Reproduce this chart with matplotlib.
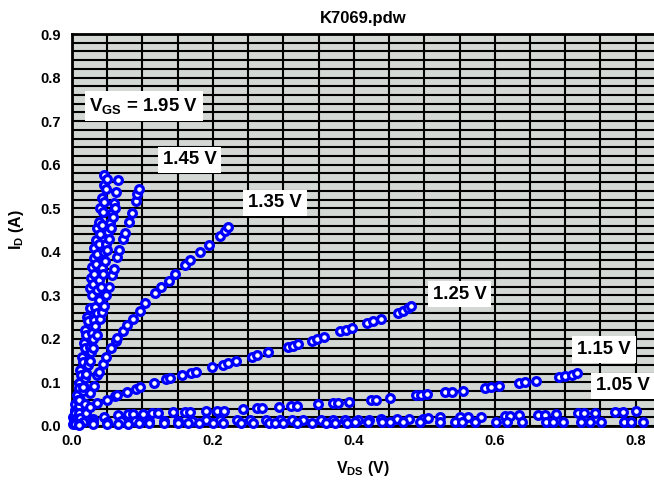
import numpy as np
import matplotlib
matplotlib.use("Agg")
import matplotlib.pyplot as plt

plt.rcParams['font.family'] = ['Liberation Sans', 'DejaVu Sans']
plt.rcParams['font.weight'] = 'bold'
plt.rcParams['mathtext.fontset'] = 'custom'
plt.rcParams['mathtext.rm'] = 'Liberation Sans:bold'
plt.rcParams['mathtext.bf'] = 'Liberation Sans:bold'
plt.rcParams['mathtext.default'] = 'rm'

title = "K7069.pdw"
x_label = r"V$_{DS}$ (V)"
y_label = r"I$_{D}$ (A)"

# Output characteristics, one sweep per gate voltage (V_DS in V, I_D in A)
vds_195 = [0.001, 0.002, 0.004, 0.005, 0.007, 0.0095, 0.012, 0.014, 0.017, 0.019, 0.021,
           0.026, 0.027, 0.029, 0.031, 0.032, 0.034, 0.035, 0.038, 0.040, 0.043, 0.045, 0.046]
id_195 = [0.005, 0.020, 0.037, 0.050, 0.070, 0.098, 0.129, 0.159, 0.190, 0.220, 0.251,
          0.316, 0.339, 0.366, 0.385, 0.408, 0.427, 0.454, 0.469, 0.500, 0.523, 0.553, 0.576]

vds_185 = [0.003, 0.005, 0.008, 0.010, 0.013, 0.015, 0.018, 0.020, 0.023, 0.025, 0.028,
           0.030, 0.032, 0.034, 0.036, 0.038, 0.040, 0.042, 0.044, 0.046, 0.049, 0.050]
id_185 = [0.010, 0.030, 0.060, 0.088, 0.118, 0.148, 0.178, 0.210, 0.240, 0.270, 0.300,
          0.325, 0.350, 0.372, 0.395, 0.418, 0.440, 0.462, 0.492, 0.515, 0.545, 0.568]

vds_165 = [0.004, 0.007, 0.012, 0.017, 0.020, 0.024, 0.026, 0.028, 0.031, 0.033, 0.035,
           0.038, 0.042, 0.044, 0.046, 0.048, 0.051, 0.054, 0.057, 0.059, 0.062, 0.065]
id_165 = [0.015, 0.029, 0.060, 0.090, 0.121, 0.152, 0.182, 0.213, 0.243, 0.274, 0.312,
          0.335, 0.362, 0.381, 0.400, 0.419, 0.446, 0.465, 0.488, 0.511, 0.538, 0.565]

vds_155 = [0.006, 0.010, 0.015, 0.019, 0.023, 0.027, 0.030, 0.033, 0.036, 0.039, 0.041,
           0.044, 0.047, 0.050, 0.052, 0.055, 0.058, 0.061]
id_155 = [0.020, 0.045, 0.080, 0.110, 0.140, 0.170, 0.200, 0.230, 0.260, 0.290, 0.320,
          0.350, 0.378, 0.405, 0.430, 0.455, 0.480, 0.500]

vds_145 = [0.003, 0.005, 0.010, 0.015, 0.020, 0.025, 0.030, 0.035, 0.040, 0.042, 0.045,
           0.049, 0.052, 0.057, 0.059, 0.064, 0.067, 0.072, 0.075, 0.081, 0.085, 0.091,
           0.093, 0.0955]
id_145 = [0.015, 0.030, 0.060, 0.090, 0.120, 0.150, 0.180, 0.210, 0.245, 0.262, 0.275,
          0.301, 0.320, 0.347, 0.360, 0.387, 0.404, 0.429, 0.444, 0.469, 0.490, 0.517,
          0.533, 0.543]

vds_135 = [0.005, 0.010, 0.018, 0.026, 0.031, 0.035, 0.038, 0.044, 0.049, 0.056, 0.062,
           0.064, 0.072, 0.078, 0.086, 0.096, 0.104, 0.118, 0.126, 0.138, 0.146, 0.160,
           0.168, 0.182, 0.195, 0.210, 0.217, 0.222]
id_135 = [0.015, 0.030, 0.050, 0.075, 0.092, 0.117, 0.125, 0.142, 0.159, 0.178, 0.196,
          0.201, 0.219, 0.232, 0.245, 0.265, 0.283, 0.306, 0.318, 0.334, 0.350, 0.370,
          0.381, 0.400, 0.416, 0.436, 0.448, 0.458]

vds_125 = [0.005, 0.012, 0.020, 0.026, 0.036, 0.050, 0.061, 0.064, 0.078, 0.091, 0.096,
           0.117, 0.133, 0.139, 0.156, 0.169, 0.176, 0.199, 0.214, 0.221, 0.233, 0.256,
           0.263, 0.278, 0.306, 0.314, 0.321, 0.341, 0.348, 0.358, 0.381, 0.389, 0.398,
           0.419, 0.427, 0.438, 0.463, 0.470, 0.477, 0.481]
id_125 = [0.008, 0.018, 0.030, 0.044, 0.052, 0.060, 0.069, 0.071, 0.079, 0.086, 0.090,
          0.099, 0.107, 0.110, 0.117, 0.121, 0.125, 0.136, 0.140, 0.145, 0.150, 0.159,
          0.163, 0.169, 0.181, 0.184, 0.188, 0.196, 0.200, 0.205, 0.217, 0.220, 0.226,
          0.236, 0.240, 0.246, 0.260, 0.265, 0.270, 0.276]

vds_115 = [0.005, 0.015, 0.030, 0.045, 0.066, 0.079, 0.086, 0.101, 0.113, 0.122, 0.143,
           0.160, 0.168, 0.190, 0.206, 0.216, 0.243, 0.262, 0.270, 0.294, 0.311, 0.320,
           0.349, 0.370, 0.378, 0.393, 0.424, 0.431, 0.452, 0.488, 0.495, 0.504, 0.530,
           0.539, 0.555, 0.586, 0.594, 0.606, 0.635, 0.643, 0.659, 0.691, 0.699, 0.710,
           0.717]
id_115 = [0.004, 0.010, 0.016, 0.021, 0.025, 0.027, 0.027, 0.028, 0.029, 0.029, 0.031,
          0.032, 0.032, 0.034, 0.035, 0.035, 0.038, 0.041, 0.041, 0.043, 0.046, 0.046,
          0.050, 0.052, 0.052, 0.054, 0.060, 0.060, 0.064, 0.070, 0.071, 0.073, 0.077,
          0.077, 0.080, 0.088, 0.090, 0.092, 0.098, 0.100, 0.104, 0.112, 0.114, 0.117,
          0.121]

vds_105 = [0.010, 0.030, 0.050, 0.070, 0.090, 0.110, 0.130, 0.150, 0.170, 0.190, 0.210,
           0.234, 0.252, 0.275, 0.295, 0.312, 0.328, 0.354, 0.371, 0.387, 0.406, 0.422,
           0.439, 0.461, 0.478, 0.498, 0.505, 0.522, 0.550, 0.562, 0.581, 0.614, 0.621,
           0.635, 0.661, 0.671, 0.687, 0.718, 0.726, 0.742, 0.770, 0.782, 0.800]
id_105 = [0.004, 0.008, 0.010, 0.011, 0.011, 0.012, 0.012, 0.012, 0.012, 0.013, 0.013,
          0.013, 0.013, 0.013, 0.013, 0.014, 0.014, 0.014, 0.014, 0.014, 0.014, 0.014,
          0.015, 0.015, 0.015, 0.015, 0.018, 0.020, 0.020, 0.020, 0.021, 0.024, 0.024,
          0.025, 0.025, 0.025, 0.027, 0.029, 0.029, 0.029, 0.031, 0.031, 0.034]

vds_095 = [0.010, 0.030, 0.050, 0.065, 0.080, 0.095, 0.110, 0.130, 0.150, 0.165, 0.180,
           0.200, 0.215, 0.240, 0.257, 0.280, 0.288, 0.300, 0.320, 0.340, 0.360, 0.374,
           0.390, 0.401, 0.420, 0.440, 0.451, 0.470, 0.494, 0.522, 0.543, 0.553, 0.572,
           0.602, 0.617, 0.638, 0.673, 0.683, 0.697, 0.723, 0.735, 0.751, 0.784, 0.794,
           0.811]
id_095 = [0.002, 0.004, 0.005, 0.005, 0.005, 0.006, 0.006, 0.006, 0.006, 0.006, 0.006,
          0.006, 0.006, 0.007, 0.007, 0.007, 0.007, 0.007, 0.007, 0.007, 0.007, 0.007,
          0.007, 0.008, 0.008, 0.008, 0.008, 0.008, 0.009, 0.009, 0.009, 0.009, 0.009,
          0.009, 0.010, 0.010, 0.010, 0.010, 0.010, 0.010, 0.010, 0.010, 0.010, 0.010,
          0.010]

curves = [
    (vds_195, id_195), (vds_185, id_185), (vds_165, id_165), (vds_155, id_155),
    (vds_145, id_145), (vds_135, id_135), (vds_125, id_125), (vds_115, id_115),
    (vds_105, id_105), (vds_095, id_095),
]

# Curve labels: text and anchor (V_DS, I_D)
label_texts = [r"V$_{GS}$ = 1.95 V", "1.45 V", "1.35 V", "1.25 V", "1.15 V", "1.05 V"]
label_x = [0.102, 0.167, 0.288, 0.550, 0.755, 0.782]
label_y = [0.735, 0.611, 0.512, 0.303, 0.175, 0.092]

fig = plt.figure(figsize=(6.54, 4.86), dpi=100)
ax = fig.add_axes([0.110, 0.1235, 0.890, 0.8065])
ax.set_facecolor('#d4d8d4')

for v, i in curves:
    ax.plot(v, i, linestyle='none', marker='o', markersize=5.6,
            markerfacecolor='white', markeredgecolor='#0000ff',
            markeredgewidth=2.3, zorder=3, clip_on=False)

ax.set_xlim(0, 0.826)
ax.set_ylim(0, 0.9)
ax.set_xticks(np.arange(0, 0.81, 0.2))
ax.set_xticks(np.arange(0, 0.826, 0.05), minor=True)
ax.set_yticks(np.arange(0, 0.91, 0.1))
ax.set_yticks(np.arange(0, 0.901, 0.02), minor=True)
ax.set_xticklabels([f"{t:.1f}" for t in np.arange(0, 0.81, 0.2)])
ax.set_yticklabels([f"{t:.1f}" for t in np.arange(0, 0.91, 0.1)])

ax.grid(which='both', color='black', linewidth=1.5, zorder=1)
ax.set_axisbelow(True)
ax.tick_params(which='both', length=0, labelsize=10.5)
ax.tick_params(axis='y', pad=8)
ax.tick_params(axis='x', pad=6)
for lbl in ax.get_xticklabels() + ax.get_yticklabels():
    lbl.set_fontweight('bold')

for side in ['left', 'bottom', 'top']:
    ax.spines[side].set_color('black')
    ax.spines[side].set_linewidth(2.0)
ax.spines['right'].set_visible(False)

ax.set_title(title, fontsize=12, fontweight='bold', pad=8)
ax.set_xlabel(x_label, fontsize=11.5, fontweight='bold', labelpad=8)
ax.set_ylabel(y_label, fontsize=11.5, fontweight='bold', labelpad=10)

for txt, x, y in zip(label_texts, label_x, label_y):
    ax.text(x, y, txt, fontsize=13.4, fontweight='bold', ha='center', va='center',
            zorder=5, bbox=dict(facecolor='white', edgecolor='none', pad=3.5))

fig.savefig("out.png", dpi=100)
